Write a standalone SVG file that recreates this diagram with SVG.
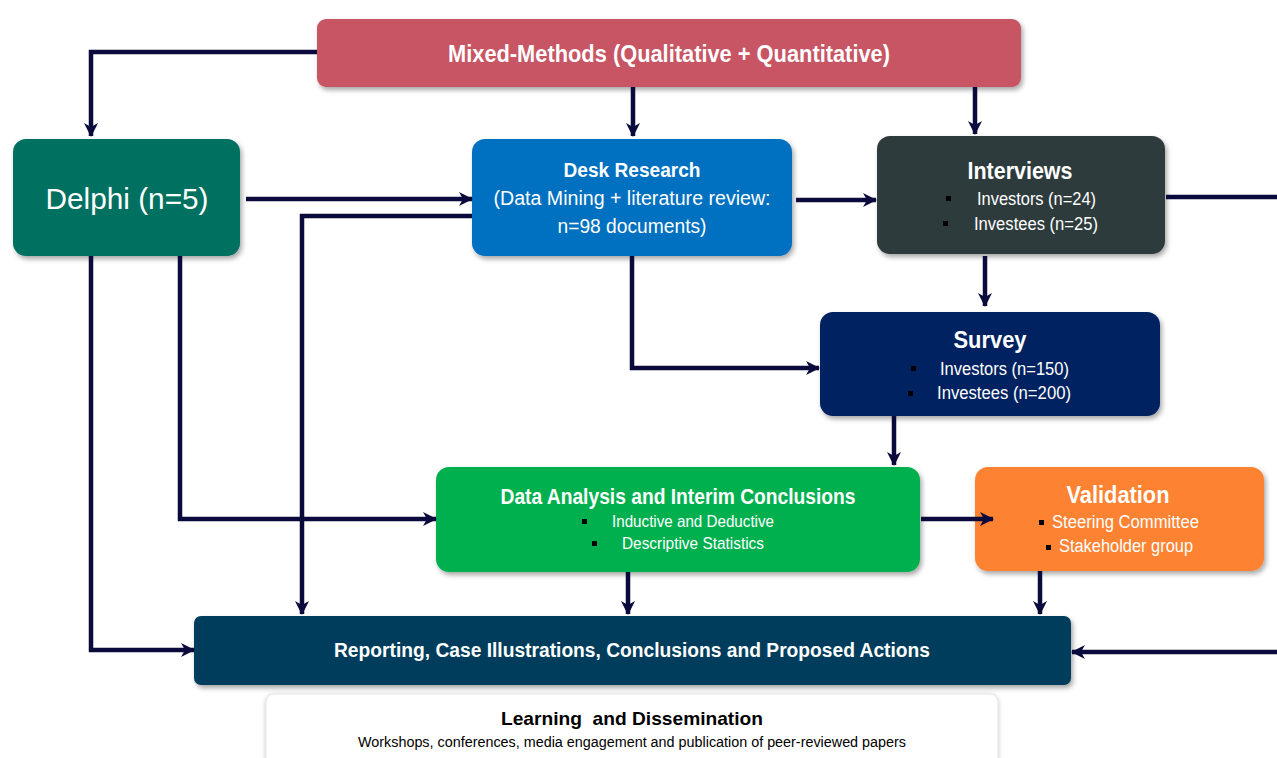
<svg xmlns="http://www.w3.org/2000/svg" width="1277" height="758" viewBox="0 0 1277 758">
<defs>
<filter id="sh" x="-10%" y="-20%" width="120%" height="150%">
<feDropShadow dx="2" dy="3" stdDeviation="2.5" flood-color="#000" flood-opacity="0.35"/>
</filter>
<filter id="sh2" x="-10%" y="-30%" width="120%" height="160%">
<feDropShadow dx="0" dy="1" stdDeviation="2" flood-color="#000" flood-opacity="0.25"/>
</filter>
<marker id="arr" viewBox="0 0 14 14" refX="13" refY="7" markerWidth="14" markerHeight="14" markerUnits="userSpaceOnUse" orient="auto">
<path d="M0,0 L14,7 L0,14 L4,7 Z" fill="#0a0a3c"/>
</marker>
</defs>
<style>
.c{fill:none;stroke:#0a0a3c;stroke-width:4.5;stroke-linejoin:miter}
.t{font-family:"Liberation Sans",Arial,sans-serif;fill:#fff}
.b{font-weight:bold}
.m{text-anchor:middle}
.bul{fill:#000}
</style>
<rect width="1277" height="758" fill="#fff"/>

<g id="mixed">
<rect x="317" y="19" width="704" height="68" rx="9" fill="#c75464" filter="url(#sh)"/>
<text class="t b m" x="669" y="62" font-size="24" textLength="442" lengthAdjust="spacingAndGlyphs">Mixed-Methods (Qualitative + Quantitative)</text>
</g>

<g id="delphi">
<rect x="13" y="139" width="227" height="117" rx="13" fill="#007060" filter="url(#sh)"/>
<text class="t m" x="127" y="209" font-size="29" textLength="163" lengthAdjust="spacingAndGlyphs">Delphi (n=5)</text>
</g>

<g id="desk">
<rect x="472" y="139" width="320" height="117" rx="13" fill="#0070c0" filter="url(#sh)"/>
<text class="t b m" x="632" y="177" font-size="20" textLength="137" lengthAdjust="spacingAndGlyphs">Desk Research</text>
<text class="t m" x="632" y="205" font-size="20" textLength="277" lengthAdjust="spacingAndGlyphs">(Data Mining + literature review:</text>
<text class="t m" x="632" y="233" font-size="20" textLength="149" lengthAdjust="spacingAndGlyphs">n=98 documents)</text>
</g>

<g id="interviews">
<rect x="877" y="136" width="288" height="118" rx="13" fill="#2e3a3d" filter="url(#sh)"/>
<text class="t b m" x="1020" y="179" font-size="24" textLength="105" lengthAdjust="spacingAndGlyphs">Interviews</text>
<rect class="bul" x="946" y="196" width="5" height="5"/>
<text class="t" x="977" y="205" font-size="18" textLength="119" lengthAdjust="spacingAndGlyphs">Investors (n=24)</text>
<rect class="bul" x="943" y="221" width="5" height="5"/>
<text class="t" x="974" y="230" font-size="18" textLength="124" lengthAdjust="spacingAndGlyphs">Investees (n=25)</text>
</g>

<g id="survey">
<rect x="820" y="312" width="340" height="104" rx="13" fill="#002060" filter="url(#sh)"/>
<text class="t b m" x="990" y="348" font-size="24" textLength="73" lengthAdjust="spacingAndGlyphs">Survey</text>
<rect class="bul" x="911" y="366" width="5" height="5"/>
<text class="t" x="940" y="375" font-size="18" textLength="129" lengthAdjust="spacingAndGlyphs">Investors (n=150)</text>
<rect class="bul" x="908" y="391" width="5" height="5"/>
<text class="t" x="937" y="399" font-size="18" textLength="134" lengthAdjust="spacingAndGlyphs">Investees (n=200)</text>
</g>

<g id="analysis">
<rect x="436" y="467" width="484" height="105" rx="13" fill="#00b050" filter="url(#sh)"/>
<text class="t b m" x="678" y="504" font-size="22" textLength="355" lengthAdjust="spacingAndGlyphs">Data Analysis and Interim Conclusions</text>
<rect class="bul" x="582" y="519" width="5" height="5"/>
<text class="t" x="612" y="527" font-size="17" textLength="162" lengthAdjust="spacingAndGlyphs">Inductive and Deductive</text>
<rect class="bul" x="592" y="541" width="5" height="5"/>
<text class="t" x="622" y="549" font-size="17" textLength="142" lengthAdjust="spacingAndGlyphs">Descriptive Statistics</text>
</g>

<g id="validation">
<rect x="975" y="467" width="289" height="104" rx="13" fill="#fd8333" filter="url(#sh)"/>
<text class="t b m" x="1118" y="503" font-size="24" textLength="103" lengthAdjust="spacingAndGlyphs">Validation</text>
<rect class="bul" x="1039" y="520" width="5" height="5"/>
<text class="t" x="1052" y="528" font-size="18" textLength="147" lengthAdjust="spacingAndGlyphs">Steering Committee</text>
<rect class="bul" x="1046" y="545" width="5" height="5"/>
<text class="t" x="1059" y="552" font-size="18" textLength="134" lengthAdjust="spacingAndGlyphs">Stakeholder group</text>
</g>

<g id="reporting">
<rect x="194" y="616" width="877" height="69" rx="7" fill="#023d5b" filter="url(#sh)"/>
<text class="t b m" x="632" y="657" font-size="20" textLength="596" lengthAdjust="spacingAndGlyphs">Reporting, Case Illustrations, Conclusions and Proposed Actions</text>
</g>

<g id="learning">
<rect x="266" y="694" width="732" height="80" rx="8" fill="#fff" stroke="#e4e4e4" stroke-width="1" filter="url(#sh2)"/>
<text class="t b m" x="632" y="725" font-size="19" style="fill:#000;white-space:pre" xml:space="preserve" textLength="262" lengthAdjust="spacingAndGlyphs">Learning  and Dissemination</text>
<text class="t m" x="632" y="747" font-size="14" style="fill:#000" textLength="548" lengthAdjust="spacingAndGlyphs">Workshops, conferences, media engagement and publication of peer-reviewed papers</text>
</g>

<g id="connectors">
<path class="c" d="M317,52 H91 V136" marker-end="url(#arr)"/>
<path class="c" d="M633,87 V136" marker-end="url(#arr)"/>
<path class="c" d="M975,87 V134" marker-end="url(#arr)"/>
<path class="c" d="M246,199 H472" marker-end="url(#arr)"/>
<path class="c" d="M472,216 H302 V614" marker-end="url(#arr)"/>
<path class="c" d="M796,200 H876" marker-end="url(#arr)"/>
<path class="c" d="M1166,197 H1277"/>
<path class="c" d="M1277,652 H1072" marker-end="url(#arr)"/>
<path class="c" d="M985,256 V306" marker-end="url(#arr)"/>
<path class="c" d="M632,256 V368 H819" marker-end="url(#arr)"/>
<path class="c" d="M894,416 V465" marker-end="url(#arr)"/>
<path class="c" d="M180,256 V519 H436" marker-end="url(#arr)"/>
<path class="c" d="M91,256 V650 H194" marker-end="url(#arr)"/>
<path class="c" d="M921,519 H993" marker-end="url(#arr)"/>
<path class="c" d="M628,572 V614" marker-end="url(#arr)"/>
<path class="c" d="M1040,571 V614" marker-end="url(#arr)"/>
</g>
</svg>
